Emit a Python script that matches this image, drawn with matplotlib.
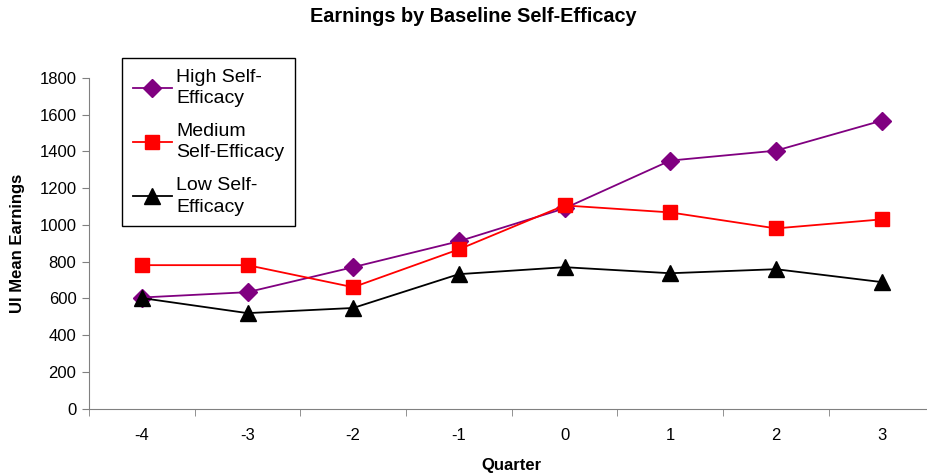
import matplotlib.pyplot as plt
import numpy as np

plt.rcParams['font.family'] = ['Liberation Sans', 'DejaVu Sans']

quarters = ['-4', '-3', '-2', '-1', '0', '1', '2', '3']
high = [605, 634, 770, 911, 1090, 1350, 1404, 1567]
medium = [781, 781, 661, 867, 1106, 1068, 981, 1030]
low = [602, 520, 548, 732, 770, 737, 759, 689]

x = np.arange(len(quarters))

fig = plt.figure(figsize=(9.27, 4.76), dpi=100)
# the axis runs a little past the right edge of the figure
ax = fig.add_axes([0.096, 0.1414, 0.912, 0.695])

ax.plot(x, high, color='#800080', lw=1.3, marker='D', ms=9.5,
        label='High Self-\nEfficacy')
ax.plot(x, medium, color='#ff0000', lw=1.3, marker='s', ms=10.5,
        label='Medium\nSelf-Efficacy')
ax.plot(x, low, color='black', lw=1.3, marker='^', ms=11.5,
        label='Low Self-\nEfficacy')

ax.set_xlim(-0.5, len(quarters) - 0.5)
ax.set_ylim(0, 1800)
ax.set_yticks(np.arange(0, 1801, 200))
ax.set_xticks(x)
ax.set_xticklabels(quarters)
ax.set_xticks(np.arange(-0.5, len(quarters), 1), minor=True)
ax.tick_params(axis='x', which='major', length=0, pad=14, labelsize=12)
ax.tick_params(axis='x', which='minor', length=5, color='#808080', direction='out')
ax.tick_params(axis='y', length=5, color='#808080', labelsize=12, pad=4)

for side in ['top', 'right']:
    ax.spines[side].set_visible(False)
for side in ['left', 'bottom']:
    ax.spines[side].set_color('#808080')

ax.set_xlabel('Quarter', fontsize=12, fontweight='bold', labelpad=11)
ax.set_ylabel('UI Mean Earnings', fontsize=12, fontweight='bold', labelpad=10)
fig.suptitle('Earnings by Baseline Self-Efficacy', fontsize=14.3,
             fontweight='bold', x=0.51, y=0.985)

leg = ax.legend(loc='upper left', bbox_to_anchor=(0.1316, 0.878),
                bbox_transform=fig.transFigure, fontsize=14, fancybox=False,
                framealpha=1, edgecolor='black', borderpad=0.55,
                labelspacing=0.8, handlelength=2.0, handletextpad=0.25,
                borderaxespad=0)
leg.get_frame().set_linewidth(1)
for t in leg.get_texts():
    t.set_linespacing(1.35)

fig.savefig('out.png', dpi=100)
